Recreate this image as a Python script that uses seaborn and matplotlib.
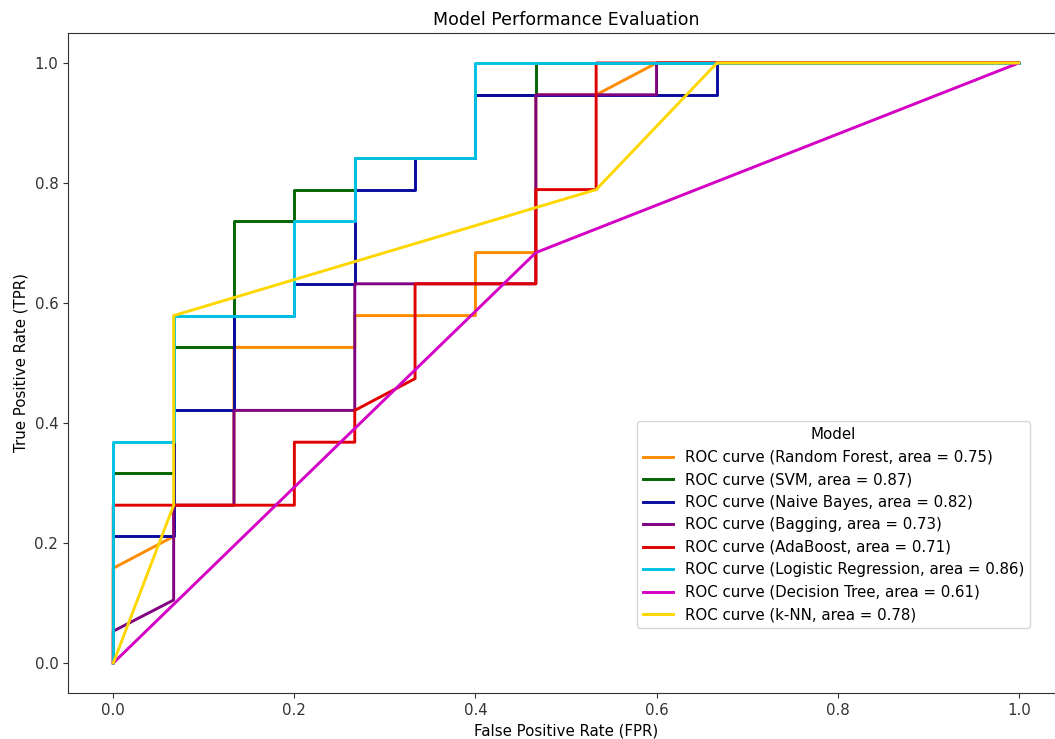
import matplotlib
matplotlib.use("Agg")
import matplotlib.pyplot as plt
import pandas as pd
import seaborn as sns

# ROC points (FPR on a 1/15 grid, TPR on a 1/19 grid)
models = ["Random Forest", "SVM", "Naive Bayes", "Bagging",
          "AdaBoost", "Logistic Regression", "Decision Tree", "k-NN"]
auc = [0.75, 0.87, 0.82, 0.73, 0.71, 0.86, 0.61, 0.78]
colors = ["darkorange", "darkgreen", "#0a0a9e", "purple",
          "#e00000", "#00c2e2", "#d400c4", "gold"]

rf_fpr = [0.0, 0.0, 0.0667, 0.0667, 0.1333, 0.1333, 0.2667, 0.2667, 0.4, 0.4, 0.4667, 0.4667, 0.5333, 0.6, 1.0]
rf_tpr = [0.0, 0.158, 0.211, 0.263, 0.263, 0.526, 0.526, 0.579, 0.579, 0.684, 0.684, 0.947, 0.947, 1.0, 1.0]

svm_fpr = [0.0, 0.0, 0.0667, 0.0667, 0.1333, 0.1333, 0.2, 0.2, 0.2667, 0.2667, 0.4, 0.4, 0.4667, 0.4667, 1.0]
svm_tpr = [0.0, 0.316, 0.316, 0.526, 0.526, 0.737, 0.737, 0.789, 0.789, 0.842, 0.842, 0.947, 0.947, 1.0, 1.0]

nb_fpr = [0.0, 0.0, 0.0667, 0.0667, 0.1333, 0.1333, 0.2, 0.2, 0.2667, 0.2667, 0.3333, 0.3333, 0.4, 0.4, 0.6667, 0.6667, 1.0]
nb_tpr = [0.0, 0.211, 0.211, 0.421, 0.421, 0.579, 0.579, 0.632, 0.632, 0.789, 0.789, 0.842, 0.842, 0.947, 0.947, 1.0, 1.0]

bag_fpr = [0.0, 0.0, 0.0667, 0.0667, 0.1333, 0.1333, 0.2667, 0.2667, 0.4667, 0.4667, 0.6, 0.6, 1.0]
bag_tpr = [0.0, 0.053, 0.105, 0.263, 0.263, 0.421, 0.421, 0.632, 0.632, 0.947, 0.947, 1.0, 1.0]

ada_fpr = [0.0, 0.0, 0.2, 0.2, 0.2667, 0.2667, 0.3333, 0.3333, 0.4667, 0.4667, 0.5333, 0.5333, 1.0]
ada_tpr = [0.0, 0.263, 0.263, 0.368, 0.368, 0.421, 0.474, 0.632, 0.632, 0.789, 0.789, 1.0, 1.0]

lr_fpr = [0.0, 0.0, 0.0667, 0.0667, 0.2, 0.2, 0.2667, 0.2667, 0.4, 0.4, 1.0]
lr_tpr = [0.0, 0.368, 0.368, 0.579, 0.579, 0.737, 0.737, 0.842, 0.842, 1.0, 1.0]

dt_fpr = [0.0, 0.4667, 1.0]
dt_tpr = [0.0, 0.684, 1.0]

knn_fpr = [0.0, 0.0667, 0.0667, 0.5333, 0.6667, 1.0]
knn_tpr = [0.0, 0.263, 0.579, 0.789, 1.0, 1.0]

curves = [(rf_fpr, rf_tpr), (svm_fpr, svm_tpr), (nb_fpr, nb_tpr), (bag_fpr, bag_tpr),
          (ada_fpr, ada_tpr), (lr_fpr, lr_tpr), (dt_fpr, dt_tpr), (knn_fpr, knn_tpr)]

rows = []
labels = []
for name, area, (fpr, tpr) in zip(models, auc, curves):
    label = f"ROC curve ({name}, area = {area:.2f})"
    labels.append(label)
    for x, y in zip(fpr, tpr):
        rows.append({"Model": label, "FPR": x, "TPR": y})
df = pd.DataFrame(rows)

plt.rcParams["font.family"] = ["DejaVu Sans"]
plt.rcParams["font.size"] = 10.8

fig = plt.figure(figsize=(10.55, 7.39), dpi=100)
# the reference is cropped on the right, so the axes run past the figure edge
ax = fig.add_axes([68 / 1055, 46 / 739, 996 / 1055, 660 / 739])

sns.lineplot(data=df, x="FPR", y="TPR", hue="Model", hue_order=labels,
             palette=dict(zip(labels, colors)), estimator=None, sort=False,
             units="Model", linewidth=2.1, ax=ax)

ax.set_xlim(-0.05, 1.05)
ax.set_ylim(-0.05, 1.05)
ax.set_xticks([0.0, 0.2, 0.4, 0.6, 0.8, 1.0])
ax.set_yticks([0.0, 0.2, 0.4, 0.6, 0.8, 1.0])
ax.set_xlabel("False Positive Rate (FPR)")
ax.set_ylabel("True Positive Rate (TPR)")
ax.set_title("Model Performance Evaluation", fontsize=12.5)

for sp in ax.spines.values():
    sp.set_color("#333333")
ax.spines["right"].set_visible(False)
ax.tick_params(colors="#333333")

ax.legend(title="Model", loc="lower right", bbox_to_anchor=(0.966, 0.098),
          borderaxespad=0, fontsize=10.8, title_fontsize=10.8)

fig.savefig("out.png", dpi=100)
